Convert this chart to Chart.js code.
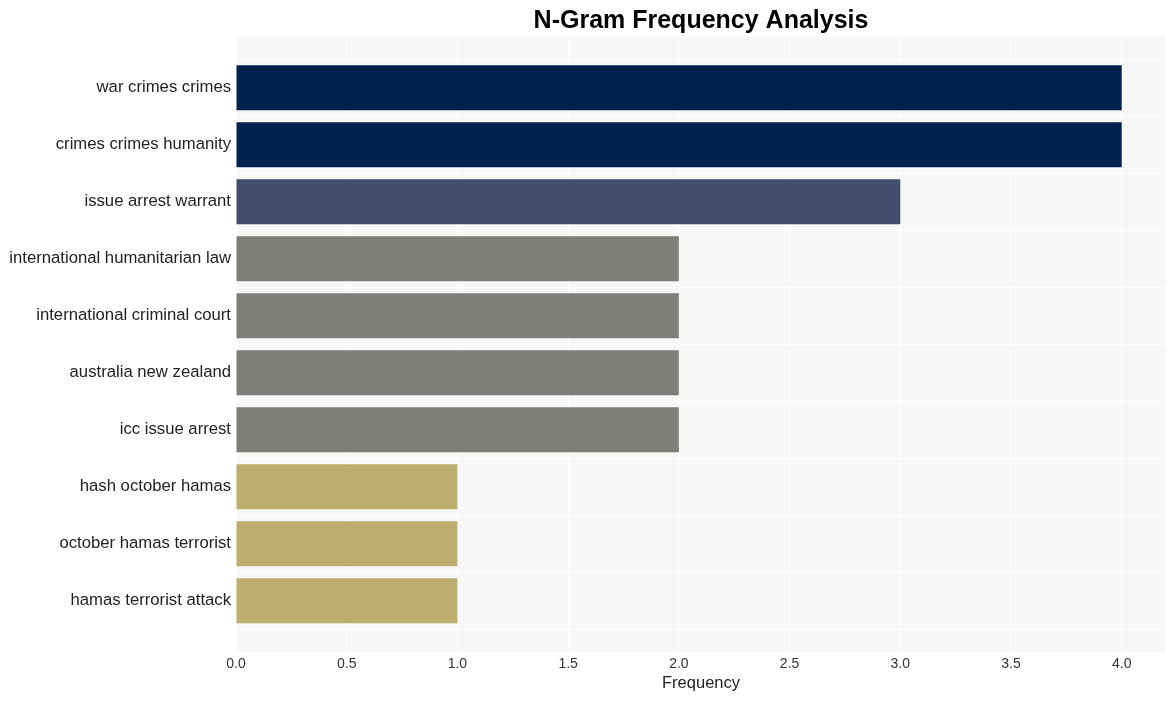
<!DOCTYPE html>
<html>
<head>
<meta charset="utf-8">
<script src="https://cdn.jsdelivr.net/npm/chart.js@4/dist/chart.umd.min.js"></script>
<style>
  html, body { margin: 0; padding: 0; background: #fff; }
  #wrap { width: 1176px; height: 701px; }
</style>
</head>
<body>
<div id="wrap"><canvas id="ngram-chart" width="1176" height="701"></canvas></div>
<script>
const ngramLabels = [
    'war crimes crimes',
    'crimes crimes humanity',
    'issue arrest warrant',
    'international humanitarian law',
    'international criminal court',
    'australia new zealand',
    'icc issue arrest',
    'hash october hamas',
    'october hamas terrorist',
    'hamas terrorist attack'
];
const ngramCounts = [4, 4, 3, 2, 2, 2, 2, 1, 1, 1];
const barColors = [
    '#00214e', '#00214e', '#434e6d',
    '#7f7e79', '#7f7e79', '#7f7e79', '#7f7e79',
    '#bcad6e', '#bcad6e', '#bcad6e'
];

// plot background behind the grid
const plotBackground = {
    id: 'plotBackground',
    beforeDraw(chart) {
        const { ctx, chartArea } = chart;
        ctx.save();
        ctx.fillStyle = '#f7f7f7';
        ctx.fillRect(chartArea.left, chartArea.top, chartArea.right - chartArea.left, chartArea.bottom - chartArea.top);
        ctx.restore();
    }
};

const font = 'Liberation Sans, Arial, sans-serif';

const ctx = document.getElementById('ngram-chart').getContext('2d');
const ngramChart = new Chart(ctx, {
    type: 'bar',
    data: {
        datasets: [{
            data: ngramCounts.map((v, i) => ({ x: v, y: i })),
            backgroundColor: barColors,
            borderWidth: 0,
            barPercentage: 0.79,
            categoryPercentage: 1.0
        }]
    },
    options: {
        indexAxis: 'y',
        responsive: false,
        animation: false,
        layout: { padding: { left: 0, right: 10, top: 0, bottom: 0 } },
        plugins: {
            legend: { display: false },
            tooltip: { enabled: false },
            title: {
                display: true,
                text: 'N-Gram Frequency Analysis',
                fullSize: false,
                color: '#000',
                font: { family: font, size: 25, weight: 'bold' },
                padding: { top: 6.5, bottom: 0 }
            }
        },
        scales: {
            x: {
                type: 'linear',
                min: 0,
                max: 4.2,
                border: { display: false },
                grid: { color: '#ffffff', lineWidth: 1, drawTicks: false },
                ticks: {
                    stepSize: 0.5,
                    padding: 4,
                    color: '#333',
                    font: { family: font, size: 14 },
                    callback: v => (v <= 4 ? v.toFixed(1) : '')
                },
                title: {
                    display: true,
                    text: 'Frequency',
                    color: '#222',
                    font: { family: font, size: 16.5 },
                    padding: { top: 0, bottom: 8 }
                },
                afterFit: s => { s.height = 49; }
            },
            y: {
                type: 'linear',
                reverse: true,
                offset: false,
                min: -0.9,
                max: 9.9,
                border: { display: false },
                grid: { color: '#ffffff', lineWidth: 1, drawTicks: false },
                ticks: {
                    stepSize: 1,
                    includeBounds: false,
                    autoSkip: false,
                    padding: 5,
                    color: '#222',
                    font: { family: font, size: 16.7 },
                    callback: v => ngramLabels[v] !== undefined && Number.isInteger(v) ? ngramLabels[v] : ''
                },
                afterFit: s => { s.width = 236; }
            }
        }
    },
    plugins: [plotBackground]
});
</script>
</body>
</html>
